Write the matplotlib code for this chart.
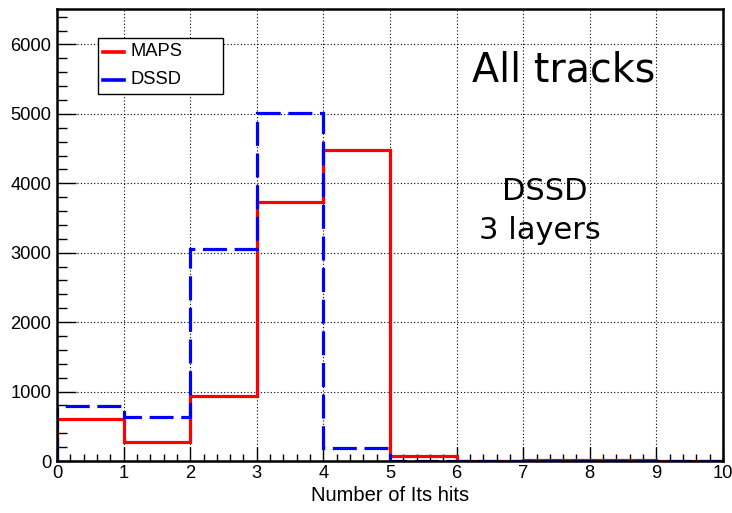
import matplotlib
matplotlib.use("Agg")
import matplotlib.pyplot as plt
from matplotlib.lines import Line2D
from matplotlib.patches import Rectangle
from matplotlib.ticker import MultipleLocator
import numpy as np

bin_edges = [0, 1, 2, 3, 4, 5, 6, 7, 8, 9, 10]
maps_counts = [601, 274, 932, 3732, 4481, 70, 5, 15, 12, 5]
dssd_counts = [788, 634, 3050, 5010, 193, 2, 1, 1, 1, 1]
series_names = ["MAPS", "DSSD"]
series_colors = ["#ff0000", "#0000ff"]
x_label = "Number of Its hits"

W, H = 732, 513
fig = plt.figure(figsize=(W/100, H/100), dpi=100)
ax = fig.add_axes([57/W, (H-461)/H, (723-57)/W, (461-9)/H])

ax.stairs(maps_counts, bin_edges, baseline=0, color=series_colors[0], lw=2.3, zorder=3)
ax.stairs(dssd_counts, bin_edges, baseline=0, color=series_colors[1], lw=2.3,
          linestyle=(0, (7.5, 2.4)), zorder=4)

ax.set_xlim(0, 10)
ax.set_ylim(0, 6510)
ax.xaxis.set_major_locator(MultipleLocator(1))
ax.xaxis.set_minor_locator(MultipleLocator(0.2))
ax.yaxis.set_major_locator(MultipleLocator(1000))
ax.yaxis.set_minor_locator(MultipleLocator(200))
ax.tick_params(axis="both", which="both", direction="in", top=False, right=False,
               width=1.0, color="black")
ax.tick_params(axis="y", which="major", length=14)
ax.tick_params(axis="y", which="minor", length=7)
ax.tick_params(axis="x", which="major", length=10)
ax.tick_params(axis="x", which="minor", length=5)
for lab in ax.get_xticklabels() + ax.get_yticklabels():
    lab.set_fontfamily("Liberation Sans")
    lab.set_fontsize(13.2)
ax.tick_params(axis="x", pad=3)
ax.tick_params(axis="y", pad=4)

ax.grid(True, which="major", color="black", linestyle=(0, (1, 2)), lw=0.8, zorder=1)
ax.set_axisbelow(True)
for s in ax.spines.values():
    s.set_linewidth(1.8)
    s.set_zorder(5)

ax.set_xlabel(x_label, fontfamily="Liberation Sans", fontsize=14.5, labelpad=3)

# legend box drawn by hand (ROOT TLegend look)
def fx(px):
    return px / W

def fy(py):
    return 1 - py / H

fig.patches.append(Rectangle((fx(98), fy(94)), fx(223) - fx(98), fy(38) - fy(94),
                             transform=fig.transFigure, facecolor="white",
                             edgecolor="black", lw=1.0, zorder=10))
for i, (name, col) in enumerate(zip(series_names, series_colors)):
    yy = 52 + i * 28
    fig.lines.append(Line2D([fx(103), fx(124)], [fy(yy), fy(yy)],
                            transform=fig.transFigure, color=col, lw=2.6, zorder=11))
    fig.text(fx(130), fy(yy), name, fontfamily="Liberation Sans", fontsize=13.2,
             ha="left", va="center", zorder=12)

fig.text(564/W, 1-70/H, "All tracks", fontfamily="DejaVu Sans", fontsize=28.5,
         ha="center", va="center")
fig.text(545/W, 1-192/H, "DSSD", fontfamily="DejaVu Sans", fontsize=22,
         ha="center", va="center")
fig.text(540/W, 1-231/H, "3 layers", fontfamily="DejaVu Sans", fontsize=22,
         ha="center", va="center")

fig.savefig("out.png", dpi=100)
